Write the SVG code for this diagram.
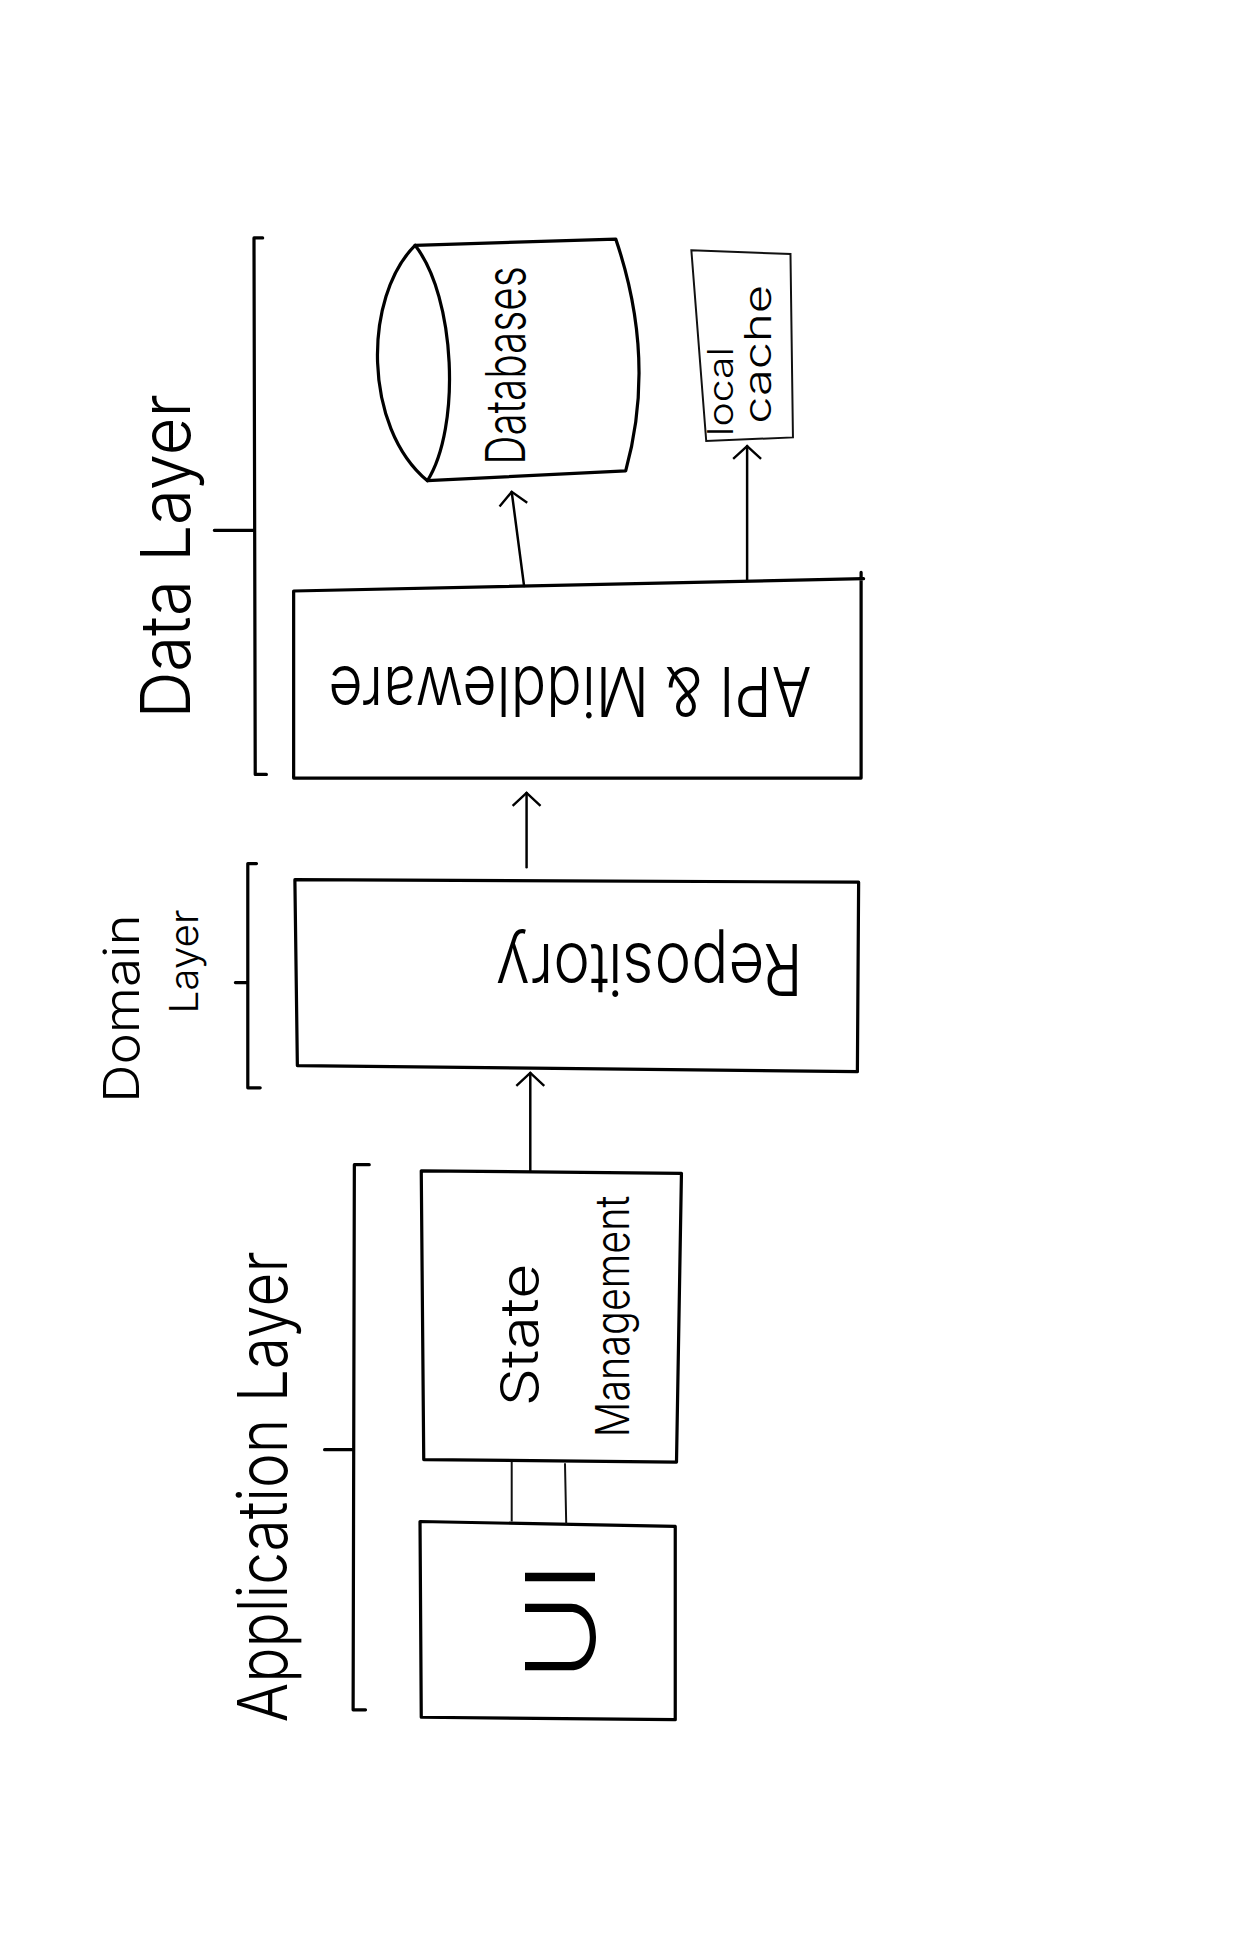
<svg xmlns="http://www.w3.org/2000/svg" width="1239" height="1942" viewBox="0 0 1239 1942">
<style>
.s{fill:none;stroke:#000;stroke-width:2.6;stroke-linecap:round;stroke-linejoin:round}
.a{fill:none;stroke:#000;stroke-width:2;stroke-linecap:round}
.t{fill:#000;stroke:none;font-family:Inter,"Liberation Sans","DejaVu Sans",sans-serif;font-weight:300}
.thin{fill:none;stroke:#111;stroke-width:1.6}
</style>
<defs>
<marker id="ah" viewBox="0 0 16 30" refX="14" refY="15" markerWidth="14" markerHeight="26" markerUnits="userSpaceOnUse" orient="auto">
<path d="M2,2 L14,15 L2,28" fill="none" stroke="#000" stroke-width="2.2"/>
</marker>
</defs>
<rect width="1239" height="1942" fill="#fff"/>
<g transform="scale(1.239)">
<g id="data-layer">
<path class="s" d="M212,192 L205,192 L206,625 L215,625 M173,428 L205,428"/>
<text class="t" transform="translate(153,580) rotate(-90)" font-size="56" textLength="262" lengthAdjust="spacingAndGlyphs">Data Layer</text>
</g>
<g id="databases">
<path class="s" d="M335,198 C293,240 293,345 345,388 C372,345 368,240 335,198 Z"/>
<path class="s" d="M335,198 L497,193 Q530,290 505,380 L345,388"/>
<text class="t" transform="translate(424,375) rotate(-90)" font-size="44" textLength="160" lengthAdjust="spacingAndGlyphs">Databases</text>
</g>
<g id="local-cache">
<path class="thin" d="M558,202 L638,205 L640,353 L570,356 Z"/>
<text class="t" transform="translate(592,352) rotate(-90)" font-size="28" textLength="72" lengthAdjust="spacingAndGlyphs">local</text>
<text class="t" transform="translate(622,342) rotate(-90)" font-size="30" textLength="112" lengthAdjust="spacingAndGlyphs">cache</text>
</g>
<g id="api-middleware">
<path class="s" d="M237,477 L697,467 M695,462 L695,628 L237,628 L237,477"/>
<text class="t" transform="translate(655,538) rotate(180)" font-size="56" textLength="390" lengthAdjust="spacingAndGlyphs">API &amp; Middleware</text>
</g>
<g id="domain-layer">
<path class="s" d="M207,697 L200,697 L200,878 L210,878 M190,793 L200,793"/>
<text class="t" transform="translate(112,890) rotate(-90)" font-size="40" textLength="152" lengthAdjust="spacingAndGlyphs">Domain</text>
<text class="t" transform="translate(160,818) rotate(-90)" font-size="32" textLength="84" lengthAdjust="spacingAndGlyphs">Layer</text>
</g>
<g id="repository">
<path class="s" d="M238,710 L693,712 L692,865 L240,860 Z"/>
<text class="t" transform="translate(648,762) rotate(180)" font-size="58" textLength="248" lengthAdjust="spacingAndGlyphs">Repository</text>
</g>
<g id="application-layer">
<path class="s" d="M298,940 L286,940 L285,1380 L295,1380 M262,1170 L285,1170"/>
<text class="t" transform="translate(232,1390) rotate(-90)" font-size="56" textLength="380" lengthAdjust="spacingAndGlyphs">Application Layer</text>
</g>
<g id="state-management">
<path class="s" d="M340,945 L550,947 L546,1180 L342,1178 Z"/>
<text class="t" transform="translate(434,1135) rotate(-90)" font-size="42" textLength="115" lengthAdjust="spacingAndGlyphs">State</text>
<text class="t" transform="translate(508,1160) rotate(-90)" font-size="38" textLength="195" lengthAdjust="spacingAndGlyphs">Management</text>
</g>
<g id="ui">
<path class="s" d="M339,1228 L545,1232 L545,1388 L340,1386 Z"/>
<text class="t" transform="translate(480,1357) rotate(-90)" font-size="78" textLength="97" lengthAdjust="spacingAndGlyphs">UI</text>
</g>
<g id="connectors">
<path class="a" d="M423,473 L413,397" marker-end="url(#ah)"/>
<path class="a" d="M603,468 L603,360" marker-end="url(#ah)"/>
<path class="a" d="M425,700 L425,640" marker-end="url(#ah)"/>
<path class="a" d="M428,945 L428,866" marker-end="url(#ah)"/>
<path class="thin" d="M413,1180 L413,1228 M456,1181 L457,1230"/>
</g>
</g>
</svg>
